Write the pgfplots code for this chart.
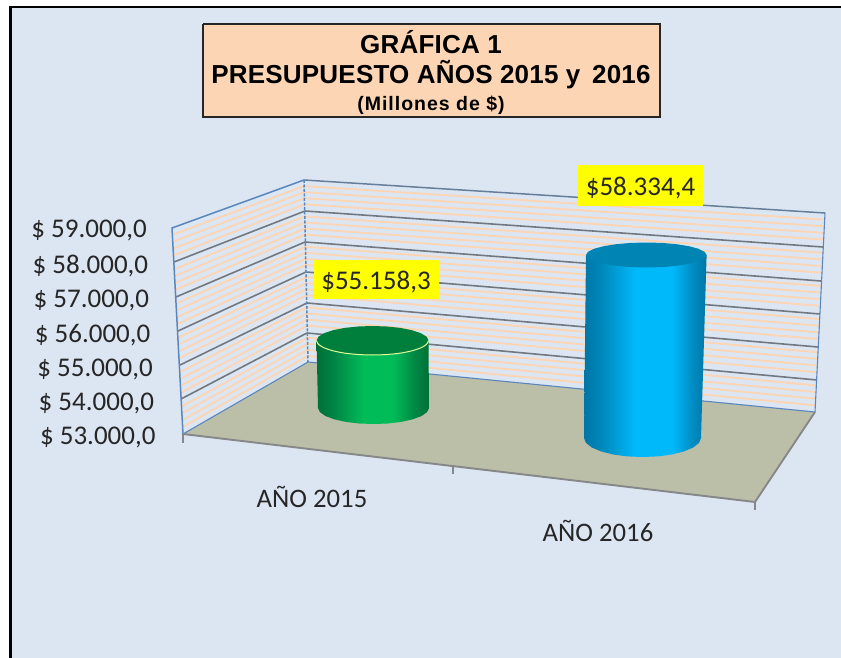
\documentclass[border=0pt]{standalone}
\usepackage{fontspec}
\setmainfont{Carlito}
\newfontfamily\titlefont[LetterSpace=0.8]{Liberation Sans}
\newfontfamily\subfont[LetterSpace=5]{Liberation Sans}
\usepackage{pgfplots}
\pgfplotsset{compat=1.18}
\definecolor{pagebg}{HTML}{DCE6F2}
\definecolor{boxfill}{HTML}{FCD5B4}
\definecolor{floorc}{HTML}{BBBFA8}
\definecolor{gridc}{HTML}{72787F}
\definecolor{edgec}{HTML}{858789}
\definecolor{wallblue}{HTML}{5A86BE}
\definecolor{stripe}{HTML}{FCD5B4}
\definecolor{txt}{HTML}{262626}
\definecolor{labelbg}{RGB}{255,255,0}
\definecolor{gdark}{HTML}{006F38}
\definecolor{gq}{HTML}{008244}
\definecolor{gr}{HTML}{008A46}
\definecolor{gmid}{HTML}{00BC58}
\definecolor{gtop}{HTML}{007F3C}
\definecolor{bdark}{HTML}{0076A6}
\definecolor{bq}{HTML}{0088BA}
\definecolor{br}{HTML}{008EC4}
\definecolor{bmid}{HTML}{00B9FB}
\definecolor{btop}{HTML}{0084B4}
\pgfdeclarehorizontalshading{greencyl}{100bp}{color(0bp)=(gdark); color(25bp)=(gdark); color(32bp)=(gq); color(46bp)=(gmid); color(59bp)=(gmid); color(68bp)=(gr); color(75bp)=(gdark); color(100bp)=(gdark)}
\pgfdeclarehorizontalshading{bluecyl}{100bp}{color(0bp)=(bdark); color(25bp)=(bdark); color(32bp)=(bq); color(46bp)=(bmid); color(61bp)=(bmid); color(69bp)=(br); color(75bp)=(bdark); color(100bp)=(bdark)}
\tikzset{tick/.style={txt, font=\fontsize{27}{28}\selectfont, inner sep=0pt, anchor=base east}}
\begin{document}
\begin{tikzpicture}[x=1pt,y=1pt]
\begin{axis}[
  width=841pt, height=658pt, scale only axis,
  xmin=0, xmax=841, ymin=0, ymax=658,
  y dir=reverse, hide axis, clip=true,
]
% page
\addplot[fill=white, draw=none] coordinates {(0,0) (841,0) (841,658) (0,658)};
\addplot[fill=pagebg, draw=none] coordinates {(11,7) (841,7) (841,658) (11,658)};
\addplot[black, line width=2.4pt] coordinates {(10.5,658) (10.5,7) (841,7)};

% floor
\addplot[fill=floorc, draw=none] coordinates {(183,434) (308,362) (815,412) (755,502)};

% wall stripes
\pgfplotsinvokeforeach{1,2,3,4,6,7,8,9,11,12,13,14,16,17,18,19,21,22,23,24,26,27,28,29}{
  \draw[stripe, line width=1.9pt] (axis cs:{304+4*#1/30},{180+182*#1/30}) -- (axis cs:{825-10*#1/30},{213+199*#1/30});
  \draw[stripe, line width=1.9pt] (axis cs:{172+11*#1/30},{228+206*#1/30}) -- (axis cs:{304+4*#1/30},{180+182*#1/30});
}

% gridlines, back wall
\addplot[gridc, line width=1.6pt] coordinates {(305,211) (823,247)};
\addplot[gridc, line width=1.6pt] coordinates {(305,242) (821,281)};
\addplot[gridc, line width=1.6pt] coordinates {(306,272) (820,314)};
\addplot[gridc, line width=1.6pt] coordinates {(307,303) (818,347)};
\addplot[gridc, line width=1.6pt] coordinates {(307,333) (817,380)};
% gridlines, left wall
\addplot[gridc, line width=1.6pt] coordinates {(174,262) (305,211)};
\addplot[gridc, line width=1.6pt] coordinates {(176,297) (305,242)};
\addplot[gridc, line width=1.6pt] coordinates {(178,331) (306,272)};
\addplot[gridc, line width=1.6pt] coordinates {(180,365) (307,303)};
\addplot[gridc, line width=1.6pt] coordinates {(181,399) (307,333)};

% wall outlines
\addplot[gridc!55!wallblue, line width=1.5pt] coordinates {(304,180) (825,213)};
\addplot[wallblue, line width=1.5pt] coordinates {(183,434) (172,228) (304,180)};
\addplot[wallblue, line width=1.5pt, dash pattern=on 3pt off 1.5pt] coordinates {(304,180) (308,362)};
\addplot[wallblue, line width=1.1pt] coordinates {(825,213) (815,412)};
\addplot[wallblue, line width=1.1pt] coordinates {(183,434) (308,362) (815,412)};

% floor front edge and ticks
\addplot[edgec, line width=1.9pt] coordinates {(815,412) (755,502) (183,434)};
\addplot[edgec, line width=1.8pt] coordinates {(183,434) (183,443)};
\addplot[edgec, line width=1.8pt] coordinates {(453,466) (453,474)};
\addplot[edgec, line width=1.8pt] coordinates {(755,502) (755,510)};

% cylinder 2015
\addplot[draw=none, shade, shading=greencyl] coordinates {
  (316.5,340.5) (318,408) (319.9,412.1) (325.4,416) (334.3,419.3) (345.75,421.9) (359.1,423.5) (373.5,424)
  (387.9,423.5) (401.25,421.9) (412.7,419.3) (421.6,416) (427.1,412.1) (429,408) (428.5,340.5)};
\addplot[fill=gtop, draw=none] coordinates {
  (316.5,340.5) (318.4,336.7) (324,333.25) (332.9,330.25) (344.5,327.9) (358,326.5) (372.5,326) (387,326.5)
  (400.5,327.9) (412.1,330.25) (421,333.25) (426.6,336.7) (428.5,340.5) (426.6,344.3) (421,347.75) (412.1,350.75)
  (400.5,353.1) (387,354.5) (372.5,355) (358,354.5) (344.5,353.1) (332.9,350.75) (324,347.75) (318.4,344.3)};
\addplot[color=green!30!yellow!40!white, line width=1pt, smooth] coordinates {
  (316.5,340.5) (318.4,344.3) (324,347.75) (332.9,350.75) (344.5,353.1) (358,354.5) (372.5,355) (387,354.5)
  (400.5,353.1) (412.1,350.75) (421,347.75) (426.6,344.3) (428.5,340.5)};

% cylinder 2016
\addplot[draw=none, shade, shading=bluecyl] coordinates {
  (586,255) (584,438) (586,442.9) (591.8,447.5) (601.1,451.4) (613.2,454.5) (627.3,456.4) (642.5,457)
  (657.7,456.4) (671.8,454.5) (683.9,451.4) (693.2,447.5) (699,442.9) (701,438) (706.6,255)};
\addplot[fill=btop, draw=none] coordinates {
  (586,255) (588.1,251.8) (594.1,248.75) (603.7,246.2) (616.1,244.2) (630.7,242.9) (646.3,242.5) (661.9,242.9)
  (676.5,244.2) (688.9,246.2) (698.5,248.75) (704.5,251.8) (706.6,255) (704.5,258.2) (698.5,261.25) (688.9,263.8)
  (676.5,265.8) (661.9,267.1) (646.3,267.5) (630.7,267.1) (616.1,265.8) (603.7,263.8) (594.1,261.25) (588.1,258.2)};

% value labels
\addplot[fill=labelbg, draw=none] coordinates {(314,260) (439,260) (439,299) (314,299)};
\addplot[fill=labelbg, draw=none] coordinates {(578,165) (703,165) (703,206) (578,206)};
\node[txt, font=\fontsize{27}{28}\selectfont, inner sep=0pt, anchor=base] at (axis cs:376,289.8) {\$55.158,3};
\node[txt, font=\fontsize{27}{28}\selectfont, inner sep=0pt, anchor=base] at (axis cs:640.5,196) {\$58.334,4};

% value axis labels
\node[tick] at (axis cs:147,237.7) {\$ 59.000,0};
\node[tick] at (axis cs:148.3,273) {\$ 58.000,0};
\node[tick] at (axis cs:149.3,307.7) {\$ 57.000,0};
\node[tick] at (axis cs:150.5,342) {\$ 56.000,0};
\node[tick] at (axis cs:153,376) {\$ 55.000,0};
\node[tick] at (axis cs:154.3,410.3) {\$ 54.000,0};
\node[tick] at (axis cs:155.7,444.3) {\$ 53.000,0};

% category labels
\node[txt, font=\fontsize{26.7}{28}\selectfont, inner sep=0pt, anchor=base] at (axis cs:312,507) {AÑO 2015};
\node[txt, font=\fontsize{26.7}{28}\selectfont, inner sep=0pt, anchor=base] at (axis cs:598,541) {AÑO 2016};

% title box
\addplot[fill=boxfill, draw=black!85, line width=2pt] coordinates {(203,24) (660,24) (660,117) (203,117) (203,24)};
\node[font=\titlefont\bfseries\fontsize{26}{28}\selectfont, inner sep=0pt, anchor=base] at (axis cs:431,54) {GRÁFICA 1};
\node[font=\titlefont\bfseries\fontsize{26}{28}\selectfont, inner sep=0pt, anchor=base] at (axis cs:431,84) {PRESUPUESTO AÑOS 2015 y\ \,2016};
\node[font=\subfont\bfseries\fontsize{19.5}{21}\selectfont, inner sep=0pt, anchor=base] at (axis cs:431,111) {(Millones de \$)};
\end{axis}
\end{tikzpicture}
\end{document}
